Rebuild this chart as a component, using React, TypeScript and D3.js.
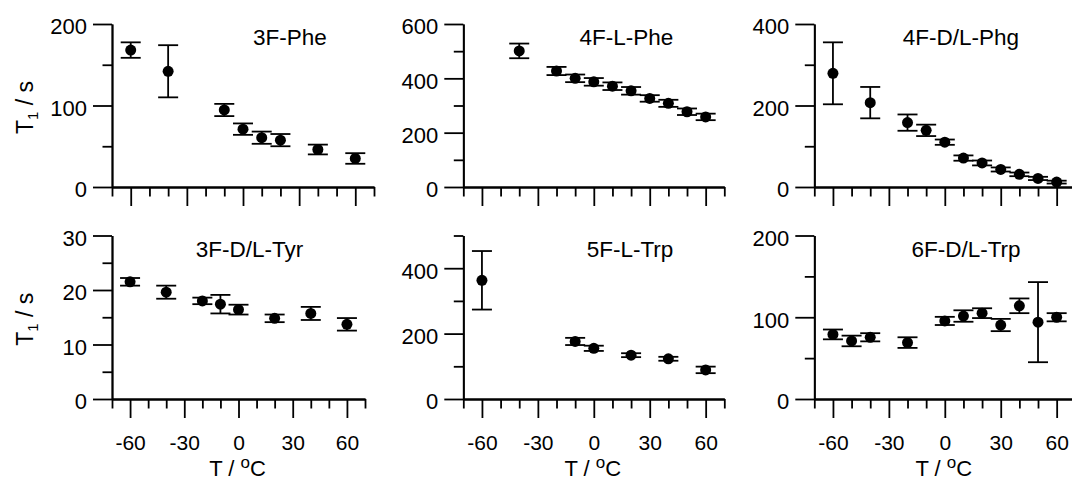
import React, { useEffect, useRef } from 'react';
import * as d3 from 'd3';

// T1 relaxation data
const temps3FPhe = [-60, -40, -10, 0, 10, 20, 40, 60];
const t1_3FPhe = [168, 142, 94.5, 71, 60.5, 57.5, 46, 35];
const err3FPhe = [9.5, 32, 7.5, 7, 7.5, 7.5, 6, 6.5];

const temps4FPhe = [-40, -20, -10, 0, 10, 20, 30, 40, 50, 60];
const t1_4FPhe = [501, 427, 400, 387, 371, 354, 326, 308, 277, 258];
const err4FPhe = [27, 15, 14, 14, 14, 14, 12, 13, 12, 12];

const temps4FPhg = [-60, -40, -20, -10, 0, 10, 20, 30, 40, 50, 60];
const t1_4FPhg = [279, 207, 158, 139, 110, 71, 59, 43, 31, 21, 12];
const err4FPhg = [76, 38.5, 20, 14, 6.5, 6.5, 6, 5, 4.5, 4, 3.5];

const temps3FTyr = [-60, -40, -20, -10, 0, 20, 40, 60];
const t1_3FTyr = [21.5, 19.6, 18.0, 17.4, 16.4, 14.8, 15.7, 13.7];
const err3FTyr = [0.7, 1.2, 0.6, 1.7, 0.9, 0.7, 1.2, 1.15];

const temps5FTrp = [-60, -10, 0, 20, 40, 60];
const t1_5FTrp = [363, 176, 155, 134, 123, 89];
const err5FTrp = [89.5, 11, 8, 6, 6, 10];

const temps6FTrp = [-60, -50, -40, -20, 0, 10, 20, 30, 40, 50, 60];
const t1_6FTrp = [79, 71, 75.5, 69, 95.5, 101.5, 105, 90.5, 114, 94, 100];
const err6FTrp = [6, 6.5, 5, 6.5, 5, 7, 6, 7.5, 9, 49, 5];

const titles = ['3F-Phe', '4F-L-Phe', '4F-D/L-Phg', '3F-D/L-Tyr', '5F-L-Trp', '6F-D/L-Trp'];
const yMaxes = [200, 600, 400, 30, 500, 200];
const yMajorSteps = [100, 200, 200, 10, 200, 100];
const xMajorTicks = [-60, -30, 0, 30, 60];

const series = [
  { t: temps3FPhe, v: t1_3FPhe, e: err3FPhe },
  { t: temps4FPhe, v: t1_4FPhe, e: err4FPhe },
  { t: temps4FPhg, v: t1_4FPhg, e: err4FPhg },
  { t: temps3FTyr, v: t1_3FTyr, e: err3FTyr },
  { t: temps5FTrp, v: t1_5FTrp, e: err5FTrp },
  { t: temps6FTrp, v: t1_6FTrp, e: err6FTrp },
];

// pixel layout of each panel
const layout = [
  { x0: 112, x1: 374, yT: 24, yB: 187, titleX: 290, titleY: 44.5 },
  { x0: 463.3, x1: 724.3, yT: 24, yB: 187, titleX: 626.5, titleY: 44.5 },
  { x0: 814.3, x1: 1075.3, yT: 24, yB: 187, titleX: 961, titleY: 44.5 },
  { x0: 112, x1: 365, yT: 235.5, yB: 399, titleX: 249.5, titleY: 256.5 },
  { x0: 463.3, x1: 724.3, yT: 235.5, yB: 399, titleX: 630, titleY: 256.5 },
  { x0: 814.3, x1: 1075.3, yT: 235.5, yB: 399, titleX: 966, titleY: 256.5 },
];

const W = 1072;
const H = 481;
const FONT = '"Liberation Sans", Arial, Helvetica, sans-serif';
const MAJOR = 19;
const MINOR = 9.5;

export default function App() {
  const ref = useRef<SVGSVGElement>(null);

  useEffect(() => {
    const svg = d3.select(ref.current);
    svg.selectAll('*').remove();

    series.forEach((s, i) => {
      const L = layout[i];
      const bottomRow = i >= 3;
      const x = d3.scaleLinear().domain([-70, 70]).range([L.x0, L.x1]);
      const y = d3.scaleLinear().domain([0, yMaxes[i]]).range([L.yB, L.yT]);
      const g = svg.append('g');

      // y axis
      const yMajor = d3.range(0, yMaxes[i] + 0.001, yMajorSteps[i]);
      const yMinor = d3.range(yMajorSteps[i] / 2, yMaxes[i] + 0.001, yMajorSteps[i]);
      const ya = g.append('g').attr('transform', `translate(${L.x0},0)`);
      ya.call(d3.axisLeft(y).tickValues(yMinor).tickSize(MINOR).tickSizeOuter(0).tickFormat(() => ''));
      const yMaj = ya.append('g').call(
        d3.axisLeft(y).tickValues(yMajor).tickSize(MAJOR).tickSizeOuter(0).tickPadding(6).tickFormat(d3.format('d'))
      );
      yMaj.selectAll('.tick text').attr('dy', '0.45em').style('font-size', '22px');

      // x axis
      const xMinor = d3.range(-70, 71, 10).filter((t) => !xMajorTicks.includes(t));
      const xa = g.append('g').attr('transform', `translate(0,${L.yB})`);
      xa.call(d3.axisBottom(x).tickValues(xMinor).tickSize(MINOR).tickSizeOuter(0).tickFormat(() => ''));
      const xMaj = xa.append('g').call(
        d3.axisBottom(x).tickValues(xMajorTicks).tickSize(MAJOR).tickSizeOuter(0).tickPadding(17)
          .tickFormat((d) => (bottomRow ? String(d) : ''))
      );
      xMaj.selectAll('.tick text').style('font-size', '21px');

      g.selectAll('.domain').attr('stroke', '#000').attr('stroke-width', 1.8);
      g.selectAll('.tick line').attr('stroke', '#000').attr('stroke-width', 1.8);
      g.selectAll('.tick text').attr('fill', '#000').style('font-family', FONT);

      // error bars
      const pts = s.t.map((t, k) => ({ t, v: s.v[k], e: s.e[k] }));
      const eb = g.append('g').attr('stroke', '#000').attr('stroke-width', 1.8).attr('fill', 'none');
      pts.forEach((p) => {
        const cx = x(p.t);
        eb.append('line').attr('x1', cx).attr('x2', cx).attr('y1', y(p.v - p.e)).attr('y2', y(p.v + p.e));
        eb.append('line').attr('x1', cx - 10).attr('x2', cx + 10).attr('y1', y(p.v - p.e)).attr('y2', y(p.v - p.e));
        eb.append('line').attr('x1', cx - 10).attr('x2', cx + 10).attr('y1', y(p.v + p.e)).attr('y2', y(p.v + p.e));
      });

      g.append('g')
        .selectAll('circle')
        .data(pts)
        .enter()
        .append('circle')
        .attr('cx', (d) => x(d.t))
        .attr('cy', (d) => y(d.v))
        .attr('r', 5.5)
        .attr('fill', '#000');

      // panel title
      g.append('text')
        .attr('x', L.titleX)
        .attr('y', L.titleY)
        .attr('text-anchor', 'middle')
        .style('font-family', FONT)
        .style('font-size', '22.5px')
        .text(titles[i]);

      // y label on the left column
      if (i % 3 === 0) {
        const yl = g.append('text')
          .attr('transform', `translate(33,${(L.yT + L.yB) / 2 + 2}) rotate(-90)`)
          .attr('text-anchor', 'middle')
          .style('font-family', FONT)
          .style('font-size', '23px');
        yl.append('tspan').text('T');
        yl.append('tspan').attr('dy', 5).style('font-size', '15px').text('1');
        yl.append('tspan').attr('dy', -5).text(' / s');
      }

      // x label on the bottom row
      if (bottomRow) {
        const xl = g.append('text')
          .attr('x', x(0) - 1)
          .attr('y', 476)
          .attr('text-anchor', 'middle')
          .style('font-family', FONT)
          .style('font-size', '22px');
        xl.append('tspan').text('T / ');
        xl.append('tspan').attr('dy', -8).style('font-size', '17px').text('o');
        xl.append('tspan').attr('dy', 8).text('C');
      }
    });
  }, []);

  return (
    <svg
      ref={ref}
      width={W}
      height={H}
      style={{ position: 'absolute', left: 0, top: 0, background: '#fff' }}
    />
  );
}
